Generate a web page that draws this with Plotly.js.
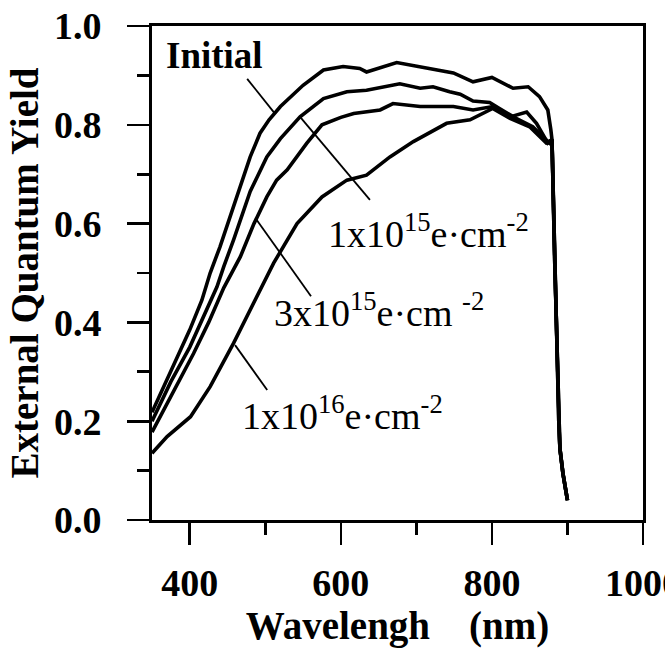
<!DOCTYPE html>
<html>
<head>
<meta charset="utf-8">
<script src="https://cdn.plot.ly/plotly-3.0.1.min.js"></script>
<style>
  html, body { margin: 0; padding: 0; background: #fff; }
  #chart { width: 665px; height: 650px; }
</style>
</head>
<body>
<div id="chart"></div>
<script>
// ---- Data ----
const wlInitial  = [350, 375, 400, 416, 427, 440, 449, 469, 480, 493, 505, 520, 550, 577, 603, 625, 634, 674, 705, 718, 749, 775, 800, 828, 848, 863, 874, 878, 879.5, 883, 887, 888.5, 890, 894, 900];
const eqeInitial = [0.218, 0.30, 0.385, 0.445, 0.50, 0.553, 0.594, 0.688, 0.735, 0.783, 0.81, 0.837, 0.88, 0.911, 0.918, 0.914, 0.907, 0.926, 0.918, 0.914, 0.905, 0.887, 0.896, 0.874, 0.877, 0.857, 0.83, 0.79, 0.77, 0.53, 0.28, 0.20, 0.145, 0.095, 0.04];

const wl1e15  = [350, 375, 400, 420, 436, 445, 458, 480, 502, 520, 546, 577, 608, 634, 678, 705, 722, 744, 758, 775, 797, 810, 832, 854, 876, 879.5, 883, 887, 888.5, 890, 894, 900];
const eqe1e15 = [0.200, 0.28, 0.35, 0.42, 0.472, 0.513, 0.567, 0.665, 0.735, 0.772, 0.816, 0.853, 0.867, 0.870, 0.883, 0.874, 0.877, 0.867, 0.862, 0.848, 0.845, 0.833, 0.813, 0.796, 0.763, 0.77, 0.53, 0.28, 0.20, 0.145, 0.094, 0.04];

const wl3e15  = [350, 375, 405, 425, 445, 467, 485, 502, 515, 529, 555, 575, 600, 617, 652, 669, 705, 749, 775, 801, 824, 846, 859, 874, 879.5, 883, 887, 888.5, 890, 894, 900];
const eqe3e15 = [0.178, 0.25, 0.337, 0.40, 0.47, 0.533, 0.60, 0.654, 0.688, 0.709, 0.763, 0.80, 0.815, 0.823, 0.830, 0.843, 0.837, 0.837, 0.830, 0.837, 0.816, 0.826, 0.803, 0.763, 0.77, 0.53, 0.28, 0.20, 0.145, 0.094, 0.04];

const wl1e16  = [350, 370, 401, 427, 458, 485, 500, 511, 542, 575, 608, 634, 665, 696, 740, 771, 801, 824, 850, 872, 879.5, 883, 887, 888.5, 890, 894, 900];
const eqe1e16 = [0.135, 0.169, 0.209, 0.27, 0.358, 0.44, 0.486, 0.52, 0.600, 0.654, 0.688, 0.698, 0.735, 0.766, 0.803, 0.810, 0.833, 0.813, 0.796, 0.763, 0.77, 0.53, 0.28, 0.20, 0.145, 0.094, 0.04];

const xMajorTicks = [400, 600, 800, 1000];
const xMinorTicks = [500, 700, 900];
const yMajorTicks = [0.0, 0.2, 0.4, 0.6, 0.8, 1.0];
const yMajorLabels = ["0.0", "0.2", "0.4", "0.6", "0.8", "1.0"];
const yMinorTicks = [0.1, 0.3, 0.5, 0.7, 0.9];

const labelTexts = [
  "Initial",
  "1x10<sup>15</sup>e·cm<sup>-2</sup>",
  "3x10<sup>15</sup>e·cm <sup>-2</sup>",
  "1x10<sup>16</sup>e·cm<sup>-2</sup>"
];

// ---- Chart ----
const FONT = '"Liberation Serif", "Times New Roman", Times, serif';
const lineStyle = { color: '#000', width: 3.6 };

const traces = [
  { x: wlInitial, y: eqeInitial, name: 'Initial' },
  { x: wl1e15, y: eqe1e15, name: '1e15' },
  { x: wl3e15, y: eqe3e15, name: '3e15' },
  { x: wl1e16, y: eqe1e16, name: '1e16' }
].map(t => Object.assign(t, { type: 'scatter', mode: 'lines', line: lineStyle, hoverinfo: 'skip' }));

const leader = (x0, y0, x1, y1) => ({
  type: 'line', xref: 'x', yref: 'y', x0, y0, x1, y1,
  line: { color: '#000', width: 1.8 }
});

const tickFont = { family: FONT, size: 38, color: '#000', weight: 'bold' };
const titleFont = { family: FONT, size: 39, color: '#000', weight: 'bold' };
const labelFont = { family: FONT, size: 38, color: '#000' };

const layout = {
  width: 665, height: 650,
  margin: { l: 152, r: 22, t: 26, b: 130 },
  paper_bgcolor: '#fff', plot_bgcolor: '#fff',
  showlegend: false,
  font: { family: FONT, color: '#000', size: 38 },
  xaxis: {
    range: [350, 1000],
    showgrid: false, zeroline: false,
    showline: true, mirror: true, linecolor: '#000', linewidth: 2.8,
    ticks: 'outside', ticklen: 22, tickwidth: 2.6, tickcolor: '#000',
    tickmode: 'array', tickvals: xMajorTicks, ticktext: xMajorTicks.map(String),
    tickfont: tickFont,
    ticklabelstandoff: 6,
    ticklabeloverflow: 'allow',
    minor: { tickmode: 'array', tickvals: xMinorTicks, ticks: 'outside', ticklen: 12, tickwidth: 2.6, tickcolor: '#000', showgrid: false },
    title: { text: 'Wavelengh\u00a0\u00a0\u00a0\u00a0(nm)', font: titleFont, standoff: 3 }
  },
  yaxis: {
    range: [0, 1],
    showgrid: false, zeroline: false,
    showline: true, mirror: true, linecolor: '#000', linewidth: 2.8,
    ticks: 'outside', ticklen: 22, tickwidth: 2.6, tickcolor: '#000',
    tickmode: 'array', tickvals: yMajorTicks, ticktext: yMajorLabels,
    tickfont: tickFont,
    ticklabelstandoff: 18,
    minor: { tickmode: 'array', tickvals: yMinorTicks, ticks: 'outside', ticklen: 12, tickwidth: 2.6, tickcolor: '#000', showgrid: false },
    title: { text: 'External Quantum Yield', font: titleFont, standoff: 4 }
  },
  shapes: [
    leader(476, 0.893, 513, 0.822),
    leader(546, 0.816, 638.5, 0.648),
    leader(487, 0.611, 560.5, 0.453),
    leader(460, 0.354, 502.5, 0.263)
  ],
  annotations: [
    { text: labelTexts[0], x: 366, y: 0.94, xref: 'x', yref: 'y', xanchor: 'left', yanchor: 'middle', showarrow: false, font: { family: FONT, size: 37, color: '#000', weight: 'bold' } },
    { text: labelTexts[1], x: 580, y: 0.585, xref: 'x', yref: 'y', xanchor: 'left', yanchor: 'middle', showarrow: false, font: labelFont },
    { text: labelTexts[2], x: 509, y: 0.425, xref: 'x', yref: 'y', xanchor: 'left', yanchor: 'middle', showarrow: false, font: labelFont },
    { text: labelTexts[3], x: 467, y: 0.217, xref: 'x', yref: 'y', xanchor: 'left', yanchor: 'middle', showarrow: false, font: labelFont }
  ]
};

Plotly.newPlot('chart', traces, layout, { staticPlot: true, displayModeBar: false });
</script>
</body>
</html>
